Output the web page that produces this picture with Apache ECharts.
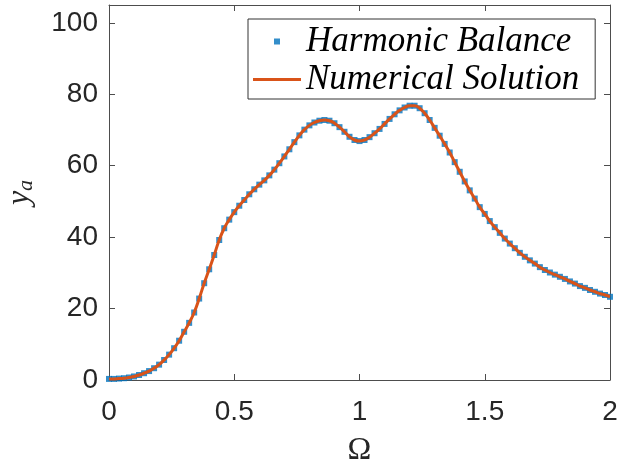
<!DOCTYPE html>
<html>
<head>
<meta charset="utf-8">
<script src="https://cdn.jsdelivr.net/npm/echarts@6/dist/echarts.min.js"></script>
<style>
html,body{margin:0;padding:0;background:#fff;}
#chart{width:626px;height:465px;}
</style>
</head>
<body>
<div id="chart"></div>
<script>
// Ω values (frequency ratio)
const omega = [0.00,0.02,0.04,0.06,0.08,0.10,0.12,0.14,0.16,0.18,
  0.20,0.22,0.24,0.26,0.28,0.30,0.32,0.34,0.36,0.38,
  0.40,0.42,0.44,0.46,0.48,0.50,0.52,0.54,0.56,0.58,
  0.60,0.62,0.64,0.66,0.68,0.70,0.72,0.74,0.76,0.78,
  0.80,0.82,0.84,0.86,0.88,0.90,0.92,0.94,0.96,0.98,
  1.00,1.02,1.04,1.06,1.08,1.10,1.12,1.14,1.16,1.18,
  1.20,1.22,1.24,1.26,1.28,1.30,1.32,1.34,1.36,1.38,
  1.40,1.42,1.44,1.46,1.48,1.50,1.52,1.54,1.56,1.58,
  1.60,1.62,1.64,1.66,1.68,1.70,1.72,1.74,1.76,1.78,
  1.80,1.82,1.84,1.86,1.88,1.90,1.92,1.94,1.96,1.98,2.00];
// Harmonic balance amplitude y_a
const harmonicBalance = [0.3,0.3,0.4,0.5,0.7,1.0,1.4,1.9,2.5,3.3,
  4.3,5.6,7.1,8.9,11.0,13.5,16.0,18.9,22.8,27.1,
  31.0,35.0,39.2,42.5,44.9,47.0,48.8,50.4,52.0,53.4,
  54.7,55.9,57.3,58.9,60.7,62.6,64.6,66.6,68.5,70.1,
  71.3,72.1,72.6,72.8,72.6,71.9,70.8,69.5,68.1,67.2,
  66.9,67.2,68.0,69.1,70.3,71.7,73.1,74.4,75.5,76.3,
  76.8,76.8,76.1,74.7,72.8,70.6,68.4,66.1,63.7,61.0,
  58.3,55.6,53.1,50.8,48.4,46.5,44.5,42.8,41.2,39.6,
  38.2,36.9,35.6,34.5,33.5,32.6,31.6,30.8,30.1,29.5,
  28.9,28.3,27.6,27.0,26.3,25.8,25.2,24.7,24.2,23.8,23.3];
// Numerical solution amplitude y_a (coincides with harmonic balance)
const numericalSolution = harmonicBalance.slice();

const xTickLabels = ['0','0.5','1','1.5','2'];
const seriesNames = ['Harmonic Balance','Numerical Solution'];

const hbData = omega.map((x,i)=>[x,harmonicBalance[i]]);
const nsData = omega.map((x,i)=>[x,numericalSolution[i]]);

const axisColor = '#4d4d4d';
const labelFont = {color:'#262626', fontSize:28, fontFamily:'Liberation Sans, Arial, sans-serif'};

const chart = echarts.init(document.getElementById('chart'), null, {renderer:'canvas'});
chart.setOption({
  animation:false,
  backgroundColor:'#ffffff',
  grid:{left:109, right:16, top:5, bottom:85, containLabel:false, outerBoundsMode:'none'},
  legend:{
    left:248, top:19,
    orient:'vertical',
    backgroundColor:'#ffffff',
    borderColor:'#333333', borderWidth:1,
    padding:[5,16,2,5],
    itemWidth:48, itemHeight:30, itemGap:3,
    symbolKeepAspect:true,
    textStyle:{color:'#000', fontSize:35, fontStyle:'italic', fontFamily:'Liberation Serif, Times New Roman, serif'},
    data:[
      {name:seriesNames[0], icon:'path://M0,0 M48,30 M21,12 L27,12 L27,18 L21,18 Z', itemStyle:{color:'#0072BD'}},
      {name:seriesNames[1], icon:'path://M0,0 M48,30 M0,13.5 L48,13.5 L48,16.5 L0,16.5 Z', itemStyle:{color:'#D95319'}}
    ]
  },
  xAxis:[{
    type:'value', min:0, max:2, interval:0.5, position:'bottom',
    name:'Ω', nameLocation:'middle', nameGap:55,
    nameTextStyle:{color:'#262626', fontSize:32, fontFamily:'Liberation Serif, Times New Roman, serif'},
    axisLine:{show:true, onZero:false, lineStyle:{color:axisColor, width:1}},
    axisTick:{show:true, inside:true, length:6, lineStyle:{color:axisColor}},
    axisLabel:Object.assign({margin:18, formatter:(v)=>{const i=Math.round(v/0.5);return xTickLabels[i]!==undefined?xTickLabels[i]:'';}}, labelFont),
    splitLine:{show:false}
  },{
    type:'value', min:0, max:2, interval:0.5, position:'top',
    axisLine:{show:true, onZero:false, lineStyle:{color:axisColor, width:1}},
    axisTick:{show:true, inside:true, length:6, lineStyle:{color:axisColor}},
    axisLabel:{show:false}, splitLine:{show:false}
  }],
  yAxis:[{
    type:'value', min:0, max:105, interval:20, position:'left',
    name:'{y|y}{a|a}', nameLocation:'middle', nameGap:72, nameRotate:90,
    nameTextStyle:{
      rich:{
        y:{fontSize:32, fontStyle:'italic', fontFamily:'Liberation Serif, Times New Roman, serif', color:'#262626'},
        a:{fontSize:22, fontStyle:'italic', fontFamily:'Liberation Serif, Times New Roman, serif', color:'#262626', verticalAlign:'bottom', padding:[12,0,0,0]}
      }
    },
    axisLine:{show:true, onZero:false, lineStyle:{color:axisColor, width:1}},
    axisTick:{show:true, inside:true, length:6, lineStyle:{color:axisColor}},
    axisLabel:Object.assign({margin:11, showMaxLabel:false}, labelFont),
    splitLine:{show:false}
  },{
    type:'value', min:0, max:105, interval:20, position:'right',
    axisLine:{show:true, onZero:false, lineStyle:{color:axisColor, width:1}},
    axisTick:{show:true, inside:true, length:6, lineStyle:{color:axisColor}},
    axisLabel:{show:false}, splitLine:{show:false}
  }],
  series:[{
    name:seriesNames[0], type:'scatter', data:hbData,
    symbol:'rect', symbolSize:6,
    itemStyle:{color:'#0072BD'}, z:2
  },{
    name:seriesNames[1], type:'line', data:nsData,
    showSymbol:false, smooth:true,
    lineStyle:{color:'#D95319', width:3}, itemStyle:{color:'#D95319'}, z:3
  }]
});
</script>
</body>
</html>
